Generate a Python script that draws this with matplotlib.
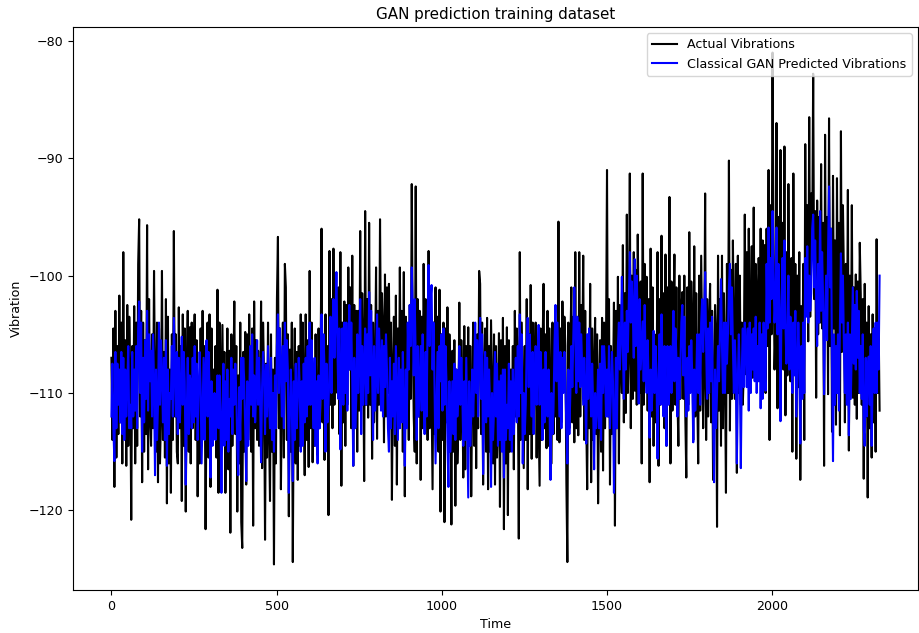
import matplotlib
matplotlib.use("Agg")
import matplotlib.pyplot as plt
import numpy as np

plt.rcParams['font.size'] = 9.1

# values, one every 3 time steps (one row = 60 steps)
actual = [
    -107.0, -114.0, -104.5, -118.0, -103.0, -115.5, -106.0, -113.5, -101.7, -112.5, -104.0, -116.0, -98.0, -113.0, -105.5, -116.2, -102.5, -114.5, -103.5, -108.5,
    -120.8, -106.0, -113.0, -102.6, -116.0, -104.0, -114.5, -99.0, -95.2, -112.0, -103.0, -117.6, -104.0, -115.0, -105.5, -113.5, -95.7, -116.5, -102.0, -112.0,
    -114.5, -105.0, -113.0, -99.6, -110.0, -115.0, -104.0, -117.6, -104.5, -116.0, -112.0, -99.6, -114.0, -106.5, -115.5, -102.0, -119.4, -103.5, -116.0, -108.0,
    -118.5, -105.0, -114.0, -96.2, -112.0, -105.0, -115.0, -116.0, -102.7, -113.0, -106.0, -119.2, -103.3, -114.5, -104.5, -120.1, -108.0, -103.0, -115.0, -104.4,
    -116.0, -104.0, -113.0, -106.5, -103.3, -114.0, -105.5, -118.8, -109.0, -116.0, -104.5, -114.5, -103.0, -113.5, -106.0, -121.6, -110.5, -104.0, -115.5, -103.3,
    -118.0, -104.5, -114.0, -108.0, -113.5, -106.0, -115.5, -101.2, -118.5, -104.0, -116.0, -110.0, -104.2, -113.0, -106.5, -118.5, -112.0, -104.5, -116.5, -106.4,
    -121.9, -105.0, -114.5, -109.0, -102.2, -113.5, -106.0, -120.1, -108.5, -116.0, -104.0, -121.0, -123.2, -106.5, -115.0, -104.8, -117.8, -105.0, -114.0, -103.3,
    -110.0, -115.0, -104.5, -121.3, -102.2, -113.0, -105.5, -114.0, -106.4, -114.5, -111.0, -102.2, -116.4, -104.0, -108.5, -122.5, -107.5, -115.5, -104.0, -113.0,
    -119.2, -105.0, -115.0, -108.0, -124.6, -107.0, -116.0, -102.0, -96.7, -113.0, -104.5, -118.2, -110.0, -104.0, -115.5, -99.0, -101.0, -114.0, -105.0, -120.5,
    -106.3, -115.0, -104.0, -124.4, -110.0, -104.5, -116.0, -106.5, -117.4, -106.0, -114.5, -103.3, -112.0, -104.0, -109.0, -117.0, -103.3, -114.0, -105.5, -116.3,
    -99.6, -113.0, -104.0, -115.9, -108.0, -114.5, -105.0, -112.0, -115.3, -104.5, -113.0, -107.5, -96.0, -112.5, -105.5, -115.7, -103.3, -114.0, -106.0, -120.4,
    -97.9, -111.0, -102.0, -113.0, -97.7, -111.0, -101.5, -104.0, -110.0, -101.0, -113.5, -98.0, -117.9, -104.0, -112.5, -102.2, -114.5, -102.5, -111.0, -99.3,
    -108.0, -101.0, -113.0, -98.3, -116.2, -102.5, -112.0, -103.0, -115.0, -103.0, -111.5, -96.2, -110.0, -101.5, -106.0, -117.5, -94.5, -111.0, -102.0, -112.1,
    -95.5, -111.0, -102.5, -115.6, -104.0, -112.5, -108.0, -99.3, -113.9, -103.0, -111.0, -95.2, -107.0, -101.5, -104.5, -114.2, -99.9, -112.0, -101.0, -110.0,
    -100.7, -113.0, -104.0, -119.1, -108.0, -103.5, -114.5, -101.7, -117.8, -104.5, -113.0, -99.3, -110.0, -103.0, -115.0, -99.7, -118.8, -103.5, -112.5, -105.3,
    -114.0, -102.5, -110.5, -92.2, -105.0, -112.0, -115.0, -92.4, -116.0, -102.0, -112.0, -103.0, -117.4, -103.5, -113.0, -99.0, -108.0, -102.0, -105.0, -114.0,
    -97.9, -113.0, -102.0, -110.0, -118.2, -104.0, -113.5, -101.0, -112.0, -103.5, -115.0, -101.2, -120.1, -105.0, -114.0, -104.0, -121.0, -104.5, -112.5, -102.7,
    -112.0, -105.0, -109.0, -121.2, -106.4, -115.0, -105.5, -119.6, -108.0, -116.0, -113.0, -102.3, -114.0, -105.5, -109.5, -117.2, -104.3, -116.5, -106.0, -111.0,
    -104.4, -114.0, -106.0, -118.8, -110.0, -104.0, -114.5, -105.2, -116.4, -105.0, -113.0, -99.6, -100.7, -113.5, -104.0, -117.8, -108.0, -104.5, -115.0, -103.6,
    -118.2, -106.0, -115.0, -103.8, -110.0, -116.0, -105.0, -117.8, -106.0, -115.5, -112.0, -104.9, -119.7, -105.5, -114.5, -103.6, -121.6, -106.0, -116.0, -104.4,
    -120.4, -105.5, -115.0, -108.0, -113.0, -106.0, -116.5, -103.0, -112.0, -104.5, -108.0, -122.4, -98.0, -114.0, -104.0, -110.0, -116.4, -106.0, -114.0, -102.0,
    -118.2, -105.0, -113.5, -100.8, -115.6, -104.0, -113.0, -108.0, -104.0, -115.5, -106.5, -112.0, -117.9, -104.5, -114.0, -106.0, -100.7, -113.0, -105.0, -114.7,
    -103.0, -114.5, -104.5, -110.0, -116.0, -104.0, -113.5, -105.3, -112.0, -105.0, -114.0, -95.4, -114.2, -104.5, -112.5, -102.2, -108.0, -103.5, -106.0, -117.6,
    -124.4, -104.0, -113.0, -106.4, -101.0, -112.5, -103.5, -114.2, -98.0, -113.0, -104.0, -113.6, -98.0, -112.0, -102.5, -108.0, -98.3, -114.0, -103.0, -112.0,
    -118.2, -105.0, -113.0, -100.7, -117.6, -104.5, -114.0, -108.0, -103.6, -113.5, -105.0, -119.4, -110.0, -105.5, -115.0, -103.6, -116.6, -104.0, -113.0, -106.0,
    -91.0, -112.0, -102.0, -117.8, -106.0, -113.5, -110.0, -102.3, -121.3, -103.0, -113.0, -100.1, -116.0, -102.5, -107.0, -110.0, -97.4, -112.5, -101.5, -111.7,
    -94.8, -110.0, -106.0, -91.3, -113.0, -100.0, -110.5, -98.0, -109.8, -99.5, -111.0, -96.5, -104.0, -110.0, -100.5, -116.0, -91.3, -111.0, -99.0, -106.0,
    -100.1, -111.5, -102.0, -117.6, -97.7, -112.0, -101.0, -114.5, -105.0, -112.5, -109.0, -98.0, -116.2, -102.0, -111.0, -96.6, -110.0, -101.5, -113.0, -98.2,
    -114.5, -101.0, -110.0, -93.3, -116.0, -100.5, -111.5, -104.0, -98.2, -111.0, -101.0, -110.0, -114.5, -100.0, -110.5, -103.0, -101.4, -110.5, -100.0, -112.0,
    -117.2, -101.0, -111.0, -96.3, -108.0, -100.5, -104.0, -114.0, -97.5, -112.0, -101.5, -110.0, -116.0, -100.0, -111.5, -98.3, -106.0, -113.0, -108.0, -93.0,
    -114.0, -102.0, -112.0, -104.0, -100.7, -112.5, -103.0, -117.4, -110.0, -102.5, -105.0, -121.4, -98.3, -111.5, -102.0, -114.5, -98.3, -113.0, -101.5, -108.0,
    -118.5, -99.0, -110.0, -90.2, -113.2, -99.5, -110.5, -97.0, -105.0, -110.5, -99.0, -116.8, -98.3, -110.0, -100.0, -111.0, -104.0, -111.0, -108.0, -94.8,
    -108.4, -98.0, -106.5, -96.0, -104.0, -108.0, -97.5, -108.7, -94.2, -107.0, -99.0, -102.0, -106.7, -98.5, -107.5, -96.0, -108.4, -97.0, -106.0, -97.4,
    -110.0, -96.0, -106.0, -91.0, -114.0, -94.0, -105.0, -81.0, -98.0, -108.0, -104.5, -87.0, -111.3, -95.0, -104.0, -89.3, -102.0, -95.5, -108.0, -89.0,
    -111.9, -98.0, -108.5, -92.2, -104.0, -109.0, -98.5, -115.0, -91.3, -108.0, -99.0, -115.6, -100.0, -109.5, -98.0, -117.4, -102.6, -110.0, -99.0, -114.0,
    -88.8, -103.0, -94.0, -105.6, -86.5, -103.5, -93.0, -98.0, -82.8, -102.0, -94.5, -110.4, -93.6, -105.0, -95.0, -104.0, -90.5, -104.5, -95.5, -116.2,
    -88.0, -105.0, -95.0, -110.1, -86.6, -106.0, -96.0, -113.3, -91.5, -104.5, -97.0, -112.7, -91.7, -107.0, -95.5, -113.6, -87.7, -106.5, -94.0, -100.0,
    -112.5, -99.0, -108.0, -92.7, -114.9, -100.0, -109.5, -94.0, -110.4, -101.0, -111.0, -99.9, -112.2, -100.5, -110.0, -97.2, -101.6, -111.0, -102.0, -117.3,
    -100.7, -112.0, -104.0, -118.9, -102.6, -113.0, -105.0, -115.5, -103.3, -112.5, -104.5, -115.0, -96.9, -110.0, -104.0, -111.5,
]

predicted = [
    -112.0, -107.5, -113.0, -115.8, -106.5, -113.0, -107.5, -111.0, -108.0, -112.5, -106.5, -113.5, -107.0, -114.0, -108.0, -112.0, -109.5, -106.0, -113.0, -111.0,
    -113.0, -106.5, -112.0, -108.0, -111.5, -106.0, -113.0, -104.5, -102.2, -110.0, -104.0, -115.0, -107.0, -112.5, -105.5, -110.5, -103.0, -111.5, -105.0, -109.0,
    -106.4, -112.0, -105.0, -109.0, -117.0, -108.0, -114.0, -111.0, -104.0, -111.0, -105.5, -108.5, -112.5, -107.0, -114.0, -105.5, -116.2, -108.0, -113.5, -110.0,
    -110.5, -106.0, -112.0, -103.6, -108.0, -112.0, -106.5, -113.5, -107.0, -112.5, -110.0, -105.2, -111.0, -106.5, -109.0, -117.8, -112.0, -107.0, -113.5, -108.5,
    -109.0, -113.0, -107.0, -112.5, -106.0, -112.0, -107.5, -114.0, -110.0, -106.5, -109.5, -116.0, -111.5, -107.0, -114.0, -108.0, -105.5, -112.0, -106.5, -109.5,
    -117.2, -109.0, -114.5, -112.0, -110.0, -114.0, -112.0, -108.5, -113.0, -108.5, -112.0, -118.5, -111.5, -107.5, -114.5, -109.0, -114.0, -108.0, -115.0, -110.5,
    -112.0, -107.0, -113.5, -108.0, -111.0, -107.5, -110.0, -114.5, -117.0, -109.5, -114.0, -107.0, -110.5, -107.0, -109.0, -113.0, -117.5, -109.0, -114.5, -111.0,
    -106.0, -111.0, -105.0, -112.0, -108.5, -112.5, -110.0, -105.5, -111.0, -107.0, -110.5, -115.9, -109.5, -106.5, -108.5, -113.5, -107.6, -112.0, -106.0, -110.5,
    -113.0, -107.0, -114.0, -110.0, -115.0, -108.5, -113.0, -106.0, -103.3, -110.0, -104.5, -108.0, -112.0, -106.0, -113.0, -104.0, -109.0, -105.5, -108.0, -118.5,
    -112.0, -108.0, -111.0, -117.5, -109.0, -114.0, -107.5, -113.0, -110.5, -107.0, -109.5, -115.0, -109.0, -114.5, -107.5, -112.5, -107.0, -112.0, -106.0, -111.0,
    -104.0, -111.0, -105.5, -110.0, -113.0, -107.0, -114.5, -109.0, -116.0, -108.5, -113.0, -110.0, -103.3, -110.5, -105.0, -108.0, -115.0, -107.5, -112.5, -111.0,
    -108.0, -103.5, -110.0, -105.0, -102.0, -107.0, -104.0, -99.7, -106.0, -110.5, -104.5, -114.8, -108.0, -104.5, -111.0, -104.0, -110.0, -104.0, -111.5, -106.5,
    -102.5, -108.0, -104.0, -109.0, -116.2, -107.0, -113.0, -110.5, -105.0, -110.0, -107.0, -102.0, -113.5, -106.0, -111.0, -108.0, -104.5, -111.0, -105.0, -110.0,
    -101.4, -108.5, -103.0, -108.0, -114.0, -106.0, -111.5, -109.0, -103.3, -110.0, -104.5, -107.0, -111.5, -105.5, -112.0, -106.0, -109.5, -105.0, -108.0, -113.0,
    -115.0, -107.0, -113.0, -109.0, -112.0, -107.5, -113.5, -106.0, -110.0, -114.0, -107.0, -113.0, -108.0, -112.5, -106.5, -111.0, -116.2, -108.0, -113.0, -104.0,
    -108.0, -102.5, -106.0, -99.3, -103.0, -108.5, -102.0, -107.0, -114.0, -106.0, -112.0, -109.0, -106.0, -111.5, -105.0, -110.0, -113.5, -106.5, -112.0, -104.0,
    -99.1, -106.0, -102.0, -100.8, -108.0, -104.0, -109.5, -116.0, -111.0, -106.5, -113.0, -106.0, -109.0, -105.0, -111.5, -104.5, -111.0, -106.0, -109.0, -114.0,
    -118.0, -109.0, -115.0, -112.0, -109.0, -113.5, -107.5, -114.0, -108.0, -112.0, -110.0, -106.0, -111.0, -107.0, -110.0, -114.5, -109.0, -114.0, -107.0, -113.0,
    -118.9, -109.0, -114.5, -112.0, -108.0, -112.0, -109.0, -104.0, -110.0, -105.5, -112.0, -107.0, -103.6, -110.5, -105.0, -116.9, -111.0, -106.5, -112.5, -107.0,
    -112.0, -108.0, -111.0, -118.0, -110.0, -114.0, -111.5, -106.5, -112.0, -107.5, -114.5, -109.0, -114.0, -108.5, -115.0, -108.0, -117.2, -108.0, -114.0, -111.0,
    -113.0, -107.5, -114.0, -109.0, -115.0, -108.0, -113.5, -110.0, -107.0, -112.5, -106.0, -112.0, -103.3, -110.0, -105.0, -116.0, -110.0, -113.5, -111.0, -106.0,
    -103.6, -109.5, -105.0, -108.0, -112.0, -106.5, -113.5, -109.0, -106.0, -111.0, -108.0, -104.2, -111.0, -106.5, -109.0, -114.0, -108.0, -112.5, -106.5, -110.0,
    -112.0, -108.0, -111.0, -117.4, -110.0, -113.5, -111.5, -106.0, -102.5, -109.0, -104.0, -108.0, -112.0, -106.5, -113.0, -107.0, -110.0, -106.5, -109.0, -113.0,
    -116.0, -108.0, -113.5, -110.0, -106.0, -109.5, -105.0, -101.0, -105.0, -110.0, -103.5, -109.0, -104.0, -109.5, -105.0, -108.0, -111.0, -107.0, -110.0, -114.3,
    -105.0, -110.5, -104.5, -109.0, -112.0, -107.5, -111.0, -116.5, -110.0, -113.0, -111.5, -108.0, -113.0, -107.5, -114.0, -106.0, -110.0, -106.0, -108.0, -112.0,
    -108.0, -112.0, -106.0, -113.0, -110.0, -106.5, -109.0, -118.5, -112.0, -107.0, -113.0, -106.0, -104.0, -108.0, -105.5, -100.1, -106.0, -110.5, -104.0, -108.0,
    -103.0, -106.5, -102.0, -98.0, -104.0, -100.5, -103.0, -107.0, -98.6, -106.0, -100.0, -104.0, -110.9, -102.0, -108.0, -106.0, -103.9, -109.0, -102.5, -108.0,
    -110.0, -105.5, -109.0, -113.8, -108.0, -111.5, -109.5, -104.7, -110.0, -106.0, -109.0, -115.6, -109.0, -105.0, -111.0, -103.3, -108.0, -112.0, -106.0, -111.0,
    -114.5, -106.0, -111.0, -108.0, -106.0, -110.0, -107.5, -103.0, -109.0, -104.5, -107.0, -112.0, -107.0, -110.5, -108.0, -104.0, -102.5, -108.5, -103.5, -109.0,
    -112.0, -107.0, -111.5, -106.0, -110.0, -105.5, -108.5, -114.2, -108.0, -111.5, -109.0, -105.0, -110.0, -105.0, -111.0, -104.0, -102.0, -106.5, -103.5, -99.7,
    -106.0, -110.5, -104.5, -110.0, -104.0, -109.0, -103.5, -112.0, -117.6, -108.0, -113.0, -110.0, -106.0, -109.0, -104.5, -100.3, -106.0, -110.0, -104.0, -110.0,
    -104.0, -107.5, -105.0, -101.0, -99.0, -105.0, -101.0, -106.0, -110.0, -105.5, -108.0, -116.0, -109.0, -105.0, -108.5, -116.4, -108.0, -104.5, -109.5, -104.0,
    -106.0, -109.5, -104.5, -111.5, -104.0, -110.0, -105.0, -108.0, -104.5, -109.0, -103.5, -110.0, -106.0, -109.0, -104.0, -111.3, -105.0, -110.5, -104.0, -108.0,
    -109.8, -99.0, -104.5, -95.9, -104.0, -98.5, -102.0, -94.5, -100.0, -104.0, -102.0, -95.9, -105.0, -99.0, -103.0, -112.4, -103.0, -98.5, -104.5, -97.0,
    -104.0, -107.5, -105.0, -100.0, -108.0, -103.5, -106.0, -110.0, -104.0, -108.5, -103.0, -112.0, -108.0, -104.0, -107.0, -114.3, -106.0, -110.5, -104.0, -110.0,
    -98.5, -103.5, -97.5, -104.0, -100.0, -103.0, -101.5, -96.0, -94.8, -101.0, -97.0, -102.0, -106.0, -99.0, -104.0, -94.5, -103.0, -98.0, -102.0, -110.1,
    -104.0, -100.0, -105.5, -98.0, -92.4, -101.0, -96.0, -108.0, -115.8, -105.0, -111.0, -106.0, -110.0, -105.0, -111.5, -104.0, -98.1, -104.0, -100.0, -106.0,
    -110.0, -105.0, -111.0, -104.0, -113.6, -105.0, -110.5, -106.0, -101.0, -107.5, -102.5, -108.0, -101.3, -107.0, -103.0, -110.0, -106.0, -110.5, -105.0, -113.0,
    -114.5, -107.0, -112.0, -108.0, -106.9, -111.0, -106.0, -114.5, -108.0, -104.5, -110.0, -104.0, -110.0, -104.0, -108.0, -100.0,
]

time = np.arange(len(actual)) * 3

fig = plt.figure(figsize=(9.19, 6.33), dpi=100)
ax = fig.add_axes([73 / 919, 1 - 590 / 633, 845 / 919, 563 / 633])

ax.plot(time, actual, color='black', label='Actual Vibrations')
ax.plot(time, predicted, color='blue', label='Classical GAN Predicted Vibrations')

ax.set_title('GAN prediction training dataset')
ax.set_xlabel('Time')
ax.set_ylabel('Vibration')
ax.legend(loc='upper right')

fig.savefig('out.png', dpi=100)
